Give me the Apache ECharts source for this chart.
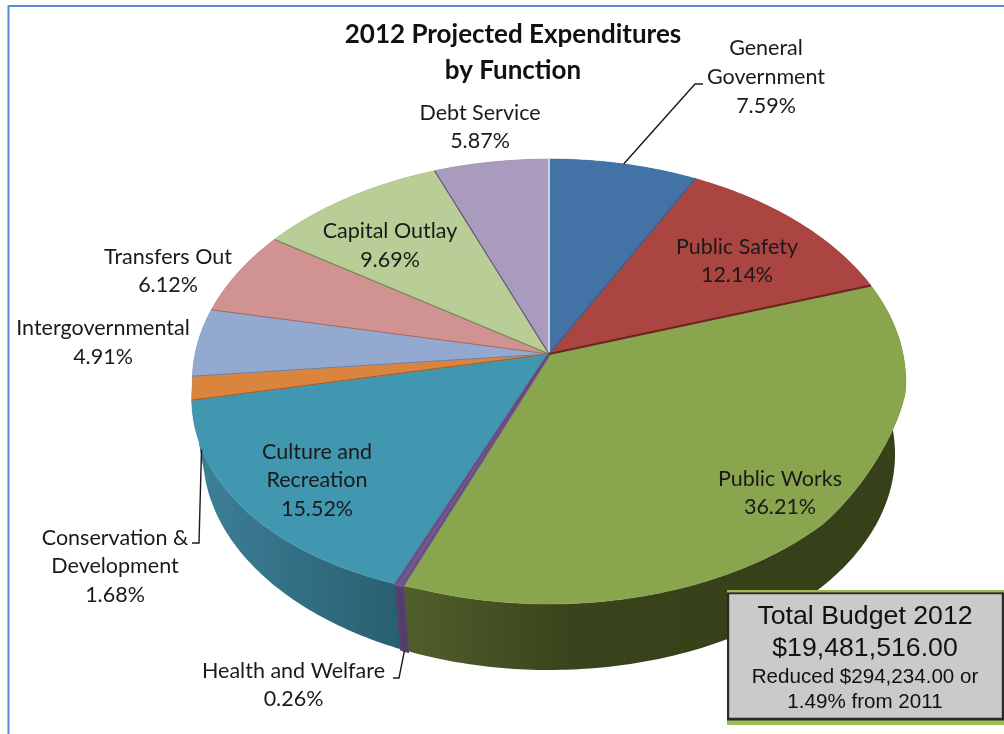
<!DOCTYPE html>
<html>
<head>
<meta charset="utf-8">
<title>2012 Projected Expenditures by Function</title>
<script src="https://cdn.jsdelivr.net/npm/echarts@6/dist/echarts.min.js"></script>
<style>
  html, body { margin: 0; padding: 0; background: #fff; }
  #chart { width: 1004px; height: 734px; }
</style>
</head>
<body>
<div id="chart"></div>
<script>
// Budget shares by function, in clockwise order from twelve o'clock.
const categories = ['General Government', 'Public Safety', 'Public Works', 'Health and Welfare',
  'Culture and Recreation', 'Conservation & Development', 'Intergovernmental',
  'Transfers Out', 'Capital Outlay', 'Debt Service'];
const shares = [7.59, 12.14, 36.21, 0.26, 15.52, 1.68, 4.91, 6.12, 9.69, 5.87];

const titleLines = ['2012 Projected Expenditures', 'by Function'];
const budgetLines = ['Total Budget 2012', '$19,481,516.00', 'Reduced $294,234.00 or', '1.49% from 2011'];

// Slice styling.
const topColors = ['#4372a7', '#ab4542', '#89a54e', '#71588f', '#4197af',
  '#db843d', '#93a9cf', '#d19392', '#b9cd96', '#a99bbd'];
const wallStops = [
  ['#2f5078', '#2f5078'], ['#7a2f2d', '#7a2f2d'], ['#515f2c', '#3a441c', '#364019', '#364019'],
  ['#56406f', '#50396a'], ['#3d8198', '#336f84', '#285f6e'], ['#3d8198', '#3d8198'],
  ['#67778f', '#67778f'], ['#926766', '#926766'], ['#82906a', '#82906a'], ['#766d84', '#766d84']
];
// Seam drawn along each slice's leading edge.
const seamColors = ['#e8e8f0', '#3a5f8f', '#6a2422', '#5a4672', '#5a4672',
  '#a05c28', '#6f7f9c', '#9a6a69', '#6f8052', '#5f5570'];
const seamWidths = [1.5, 1.2, 2.2, 1, 1, 1, 1, 1, 1.2, 1.2];

// Label placement: line breaks, block centre.
const labelText = ['General\nGovernment', 'Public Safety', 'Public Works', 'Health and Welfare',
  'Culture and\nRecreation', 'Conservation &\nDevelopment', 'Intergovernmental',
  'Transfers Out', 'Capital Outlay', 'Debt Service'];
const labelCentres = [[766, 77], [737, 261], [780, 493], [293.5, 685], [317, 480.5],
  [115, 566.5], [103, 342.5], [168, 271], [390, 245.5], [480, 127]];
// Leader lines: slice index, depth on the wall where it starts, elbow points.
const leaders = [
  { slice: 0, depth: 0, via: [[695, 84], [703, 84]] },
  { slice: 5, depth: 0.85, via: [[199, 543], [192, 543]] },
  { slice: 3, depth: 1, via: [[399, 678], [393, 678]] }
];

// Perspective disc: apex, half-axes, foreshortening and extrusion.
const view = { cx: 549, cy: 354, a: 354, b: 219.1, k: 0.1236, drop: 73.5, shrink: 0.03 };
// Small radial corrections of the top face's outline: [from deg, to deg, amount].
const faceTweaks = [[198, 262, 0.027], [100, 135, -0.016]];

const total = shares.reduce((s, v) => s + v, 0);
const cumulative = [];
shares.reduce((s, v, i) => { cumulative[i] = s; return s + v; }, 0);
const toAngle = (value) => value / total * Math.PI * 2;

function faceScale(theta) {
  const deg = theta * 180 / Math.PI;
  let f = 1;
  faceTweaks.forEach(([a, b, e]) => {
    if (deg > a && deg < b) f += e * Math.sin(Math.PI * (deg - a) / (b - a));
  });
  return f;
}

// Projects a rim point at the given angle; depth 0 is the top face, 1 the base.
function rim(theta, depth) {
  const u = Math.sin(theta), v = Math.cos(theta), d = 1 + view.k * v;
  const s = (1 - view.shrink * depth) * (depth === 0 ? faceScale(theta) : 1);
  return [view.cx + s * view.a * u / d, view.cy + view.drop * depth - s * view.b * v / d];
}
function arc(from, to, depth) {
  const n = Math.max(2, Math.ceil((to - from) / 0.015));
  const pts = [];
  for (let i = 0; i <= n; i++) pts.push(rim(from + (to - from) * i / n, depth));
  return pts;
}
function sliceRange(i) {
  const start = toAngle(cumulative[i]);
  return [start, start + toAngle(shares[i])];
}
const seriesData = shares.map((v, i) => [i, v]);

function renderWall(params, api) {
  const i = api.value(0);
  const [from, to] = sliceRange(i);
  const stops = wallStops[i];
  const thin = shares[i] < 1;
  return {
    type: 'polygon',
    z2: thin ? 2 : 1,
    shape: { points: arc(from, to, 0).concat(arc(from, to, 1).reverse()) },
    style: {
      fill: new echarts.graphic.LinearGradient(0, 0, 1, 0,
        stops.map((c, n) => ({ offset: n / (stops.length - 1), color: c }))),
      stroke: thin ? stops[0] : null,
      lineWidth: thin ? 3 : 0
    }
  };
}

function renderTop(params, api) {
  const i = api.value(0);
  const [from, to] = sliceRange(i);
  const apex = [view.cx, view.cy];
  const thin = shares[i] < 1;
  return {
    type: 'polygon',
    z2: thin ? 2 : 1,
    shape: { points: [apex].concat(arc(from, to, 0)) },
    style: { fill: topColors[i], stroke: topColors[i], lineWidth: thin ? 3.5 : 0.5 }
  };
}

function renderSeam(params, api) {
  const i = api.value(0);
  const [from] = sliceRange(i);
  return {
    type: 'line',
    shape: { x1: view.cx, y1: view.cy, x2: rim(from, 0)[0], y2: rim(from, 0)[1] },
    style: { stroke: seamColors[i], lineWidth: seamWidths[i] }
  };
}

function renderLabel(params, api) {
  const i = api.value(0);
  return {
    type: 'text',
    style: {
      text: labelText[i] + '\n' + shares[i].toFixed(2) + '%',
      x: labelCentres[i][0], y: labelCentres[i][1],
      align: 'center', verticalAlign: 'middle',
      fontFamily: 'Lato', fontSize: 21.5, lineHeight: 28.7, fill: '#1a1a1a'
    }
  };
}

function renderLeader(params, api) {
  const l = leaders[api.value(0)];
  const [from, to] = sliceRange(l.slice);
  return {
    type: 'polyline',
    shape: { points: [rim((from + to) / 2, l.depth)].concat(l.via) },
    style: { stroke: '#1a1a1a', lineWidth: 1.4, fill: 'none' }
  };
}

const chart = echarts.init(document.getElementById('chart'), null, { renderer: 'canvas' });
chart.setOption({
  animation: false,
  backgroundColor: '#ffffff',
  title: {
    text: titleLines.join('\n'),
    left: 513, top: 17, textAlign: 'center',
    textStyle: { fontFamily: 'Lato', fontWeight: 'bold', fontSize: 26, lineHeight: 36, color: '#111' },
    padding: [0, 0, 0, 0]
  },
  series: [
    { type: 'custom', name: 'Walls', coordinateSystem: 'none', z: 1, data: seriesData, renderItem: renderWall, silent: true },
    { type: 'custom', name: 'Faces', coordinateSystem: 'none', z: 2, data: seriesData, renderItem: renderTop, silent: true },
    { type: 'custom', name: 'Seams', coordinateSystem: 'none', z: 3, data: seriesData, renderItem: renderSeam, silent: true },
    { type: 'custom', name: 'Leaders', coordinateSystem: 'none', z: 4, data: leaders.map((l, i) => [i]), renderItem: renderLeader, silent: true },
    { type: 'custom', name: 'Labels', coordinateSystem: 'none', z: 5, data: seriesData, renderItem: renderLabel, silent: true }
  ],
  graphic: [
    // Slide frame, running off the right and bottom edges.
    { type: 'rect', z: 0, shape: { x: 8.5, y: 6, width: 1100, height: 800 },
      style: { fill: 'none', stroke: '#5b8bd4', lineWidth: 2 } },
    // Budget call-out.
    { type: 'rect', z: 20, shape: { x: 727, y: 592, width: 277, height: 132 }, style: { fill: '#2a2a2a' } },
    { type: 'rect', z: 21, shape: { x: 727, y: 590, width: 277, height: 2.5 }, style: { fill: '#9bbb59' } },
    { type: 'rect', z: 21, shape: { x: 727, y: 720.5, width: 277, height: 4.5 }, style: { fill: '#9bbb59' } },
    { type: 'rect', z: 21, shape: { x: 728.5, y: 593.5, width: 274, height: 125 },
      style: { fill: '#cacaca', stroke: '#2a2a2a', lineWidth: 1.4 } },
    { type: 'text', z: 22, style: { text: budgetLines[0], x: 865, y: 616.5, align: 'center', verticalAlign: 'middle',
        fontFamily: 'Liberation Sans', fontSize: 26.7, fill: '#111' } },
    { type: 'text', z: 22, style: { text: budgetLines[1], x: 865, y: 648.5, align: 'center', verticalAlign: 'middle',
        fontFamily: 'Liberation Sans', fontSize: 26.7, fill: '#111' } },
    { type: 'text', z: 22, style: { text: budgetLines[2], x: 865, y: 677, align: 'center', verticalAlign: 'middle',
        fontFamily: 'Liberation Sans', fontSize: 20.6, fill: '#111' } },
    { type: 'text', z: 22, style: { text: budgetLines[3], x: 865, y: 702, align: 'center', verticalAlign: 'middle',
        fontFamily: 'Liberation Sans', fontSize: 20.6, fill: '#111' } }
  ]
});
</script>
</body>
</html>
